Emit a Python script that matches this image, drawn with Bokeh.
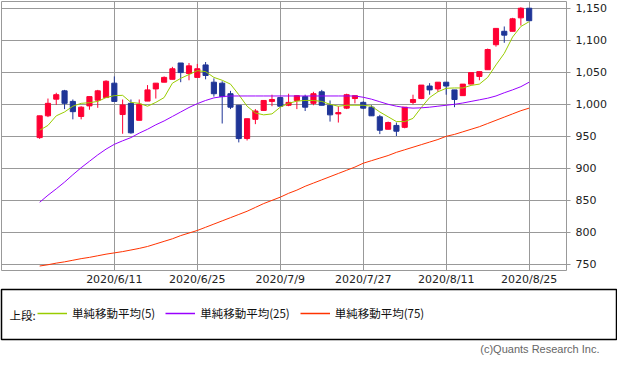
from bokeh.plotting import figure
from bokeh.models import (Range1d, FixedTicker, NumeralTickFormatter, Legend, LegendItem,
                          Label, Title, ColumnDataSource, Plot)
from bokeh.layouts import column
from bokeh.embed import file_html
from bokeh.resources import INLINE

# ---------------- data ----------------
dates = ["2020/5/29",
         "2020/6/1", "2020/6/2", "2020/6/3", "2020/6/4", "2020/6/5",
         "2020/6/8", "2020/6/9", "2020/6/10", "2020/6/11", "2020/6/12",
         "2020/6/15", "2020/6/16", "2020/6/17", "2020/6/18", "2020/6/19",
         "2020/6/22", "2020/6/23", "2020/6/24", "2020/6/25", "2020/6/26",
         "2020/6/29", "2020/6/30", "2020/7/1", "2020/7/2", "2020/7/3",
         "2020/7/6", "2020/7/7", "2020/7/8", "2020/7/9", "2020/7/10",
         "2020/7/13", "2020/7/14", "2020/7/15", "2020/7/16", "2020/7/17",
         "2020/7/20", "2020/7/21", "2020/7/22",
         "2020/7/27", "2020/7/28", "2020/7/29", "2020/7/30", "2020/7/31",
         "2020/8/3", "2020/8/4", "2020/8/5", "2020/8/6", "2020/8/7",
         "2020/8/11", "2020/8/12", "2020/8/13", "2020/8/14",
         "2020/8/17", "2020/8/18", "2020/8/19", "2020/8/20", "2020/8/21",
         "2020/8/24", "2020/8/25"]

opens = [948, 982, 1008, 1021, 1004.5, 981, 997.5, 1006.5, 1010.5, 1033,
         984, 1001.5, 975, 1005, 1024, 1034.5, 1039, 1064.5, 1048, 1042,
         1061.5, 1034.5, 1033, 1016.5, 998.5, 946.5, 976.5, 990.5, 1004.5, 1010.5,
         998.5, 1006, 1012, 1001.5, 1019.5, 998.5, 985, 994, 1009, 1003,
         995.5, 980.5, 961, 967, 964, 1003, 1009, 1028.5, 1024, 1034.5,
         1022.5, 1013.5, 1031.5, 1043.5, 1054, 1093, 1114, 1114, 1135, 1150]
highs = [982, 1009, 1018, 1022.5, 1007.5, 997, 1012, 1022.5, 1037.5, 1043.5,
         1007.5, 1007.5, 1007.5, 1030, 1033, 1043.5, 1058.5, 1064.5, 1064.5, 1063,
         1066, 1040.5, 1036, 1021, 998.5, 977.5, 992.5, 1006, 1015, 1010.5,
         1016.5, 1013.5, 1015, 1019.5, 1022.5, 1006, 997, 1016.5, 1013.5, 1004.5,
         998.5, 983.5, 973, 971.5, 995.5, 1015, 1030, 1033, 1034.5, 1034.5,
         1022.5, 1031.5, 1049.5, 1051, 1087, 1118.5, 1121.5, 1135, 1151.5, 1150]
lows = [946, 980, 999, 992.5, 976.5, 976.5, 991.5, 994.5, 1010, 1004,
        954, 954, 975, 1005, 1009, 1034.5, 1039, 1034.5, 1037.5, 1042,
        1039, 1012, 970, 992.5, 940.5, 943.5, 969, 990, 997, 997,
        997, 992.5, 989.5, 998.5, 998.5, 973, 971.5, 992.5, 1001.5, 992.5,
        982, 953.5, 961, 950.5, 962.5, 1000, 1008, 1015, 1019.5, 1015,
        995.5, 1013.5, 1031.5, 1037.5, 1054, 1090, 1096, 1114, 1123, 1130]
closes = [982, 1001.5, 1015, 1001.5, 988.5, 995.5, 1012, 1021, 1036, 1004.5,
          999, 955.5, 1000, 1022.5, 1033, 1042, 1055.5, 1049.5, 1060, 1055.5,
          1045, 1016.5, 1012, 995.5, 946.5, 977.5, 989.5, 1006, 1007.5, 997,
          1003, 1013.5, 995.5, 1016.5, 998.5, 983.5, 987, 1015, 1013.5, 994,
          982, 959.5, 971.5, 958, 995.5, 1007.5, 1030, 1022.5, 1034.5, 1028.5,
          1007.5, 1031.5, 1049.5, 1051, 1085.5, 1118.5, 1108, 1133.5, 1150, 1130.5]

ma5 = [959.5, 967, 982, 988, 997, 1001.5, 1002.5, 1004.5, 1010.5, 1013.5,
       1014, 1003, 1001.5, 997, 1003, 1010.5, 1033, 1040.5, 1046.5, 1052.5,
       1051, 1042, 1037.5, 1031.5, 1015, 997, 986.5, 983.5, 985, 995.5,
       1001.5, 1005, 1006, 1006, 1004.5, 1000, 997, 998.5, 998.5, 998.5,
       997, 988, 980.5, 973, 973, 978, 995, 1010.5, 1019.5, 1025,
       1025.5, 1025.5, 1029.5, 1031.5, 1042, 1061.5, 1079.5, 1105, 1121.5, 1129]
ma25 = [847, 858, 868, 878.5, 890, 901, 911, 921, 930, 937.5,
        943, 948, 955, 961, 968, 974, 981, 988, 995, 1001,
        1006, 1010, 1012, 1013, 1013, 1013, 1013, 1013, 1013, 1013,
        1013, 1013, 1013, 1013, 1013, 1013, 1013, 1013, 1013, 1011,
        1008, 1004, 1000, 997, 995, 994, 994.5, 995.5, 997, 998.5,
        1000, 1002, 1004.5, 1007, 1009.5, 1013, 1018, 1022.5, 1027.5, 1034.5]
ma75 = [747.5, 749.5, 752, 754, 756.5, 759, 761, 763.5, 766, 768,
        770, 772.5, 775, 778, 782, 786, 790, 795, 799, 803,
        808, 813, 818, 823, 828, 833, 839, 845, 850, 855,
        861, 866, 872, 877, 882, 887, 892, 897, 902, 908,
        912, 916, 920, 925, 929, 933, 937, 941, 945, 950,
        953, 957, 961, 965, 970, 975, 980, 985, 990, 994]

tick_dates = ["2020/6/11", "2020/6/25", "2020/7/9", "2020/7/27", "2020/8/11", "2020/8/25"]
y_ticks = [750, 800, 850, 900, 950, 1000, 1050, 1100, 1150]
legend_labels = ["単純移動平均(5)", "単純移動平均(25)", "単純移動平均(75)"]
legend_title = "上段:"
copyright_text = "(c)Quants Research Inc."

# ---------------- styles ----------------
RED = "#ff0033"
BLUE = "#1f3597"
C5, C25, C75 = "#99cc00", "#9900ff", "#ff3300"
GRID = "#999999"
JP = "Noto Sans CJK JP"

idx = list(range(len(dates)))
src = ColumnDataSource(dict(
    x=idx, high=highs, low=lows,
    top=[max(o, c) for o, c in zip(opens, closes)],
    bottom=[min(o, c) for o, c in zip(opens, closes)],
    color=[RED if c >= o else BLUE for o, c in zip(opens, closes)],
))

p = figure(width=617, height=288, x_range=Range1d(-4.6, 63.5), y_range=Range1d(740.5, 1160.5),
           y_axis_location="right", toolbar_location=None, output_backend="svg",
           min_border_left=1, min_border_top=1, min_border_right=51, min_border_bottom=16,
           outline_line_color=GRID, outline_line_width=1)

p.segment(x0="x", y0="high", x1="x", y1="low", line_color="color", line_width=1, source=src)
p.vbar(x="x", top="top", bottom="bottom", width=0.62, fill_color="color", line_color="color",
       line_width=1, source=src)
p.line(idx, ma5, line_color=C5, line_width=1)
p.line(idx, ma25, line_color=C25, line_width=1)
p.line(idx, ma75, line_color=C75, line_width=1)

tick_pos = [dates.index(d) for d in tick_dates]
p.xaxis.ticker = FixedTicker(ticks=tick_pos)
p.xaxis.major_label_overrides = {i: d for i, d in zip(tick_pos, tick_dates)}
p.yaxis.ticker = FixedTicker(ticks=y_ticks)
p.yaxis.formatter = NumeralTickFormatter(format="0,0")

for ax in (p.xaxis[0], p.yaxis[0]):
    ax.axis_line_color = None
    ax.minor_tick_line_color = None
    ax.major_tick_in = 0
    ax.major_label_text_font = "DejaVu Sans"
    ax.major_label_text_font_size = "11px"
    ax.major_label_text_color = "#222222"
p.xaxis.major_tick_out = 0
p.xaxis.major_label_standoff = 2
p.yaxis.major_tick_out = 4
p.yaxis.major_tick_line_color = GRID
p.yaxis.major_label_standoff = 5

p.xgrid.grid_line_color = GRID
p.ygrid.grid_line_color = GRID

# ---------------- legend panel ----------------
q = figure(frame_width=615, frame_height=50, x_range=Range1d(0, 615), y_range=Range1d(0, 50),
           x_axis_type=None, y_axis_type=None, toolbar_location=None, output_backend="svg",
           min_border_left=1, min_border_right=1, min_border_top=1, min_border_bottom=18,
           outline_line_color="black", outline_line_width=1.5)
q.xgrid.visible = False
q.ygrid.visible = False
if "frame_align" in Plot.properties():
    p.frame_align = False
    q.frame_align = False

# legend sample renderers, kept outside the visible ranges
d5 = q.line(x=[-20, -10], y=[-20, -20], line_color=C5, line_width=1.5)
d25 = q.line(x=[-20, -10], y=[-20, -20], line_color=C25, line_width=1.5)
d75 = q.line(x=[-20, -10], y=[-20, -20], line_color=C75, line_width=1.5)

leg = Legend(items=[LegendItem(label=legend_labels[0], renderers=[d5]),
                    LegendItem(label=legend_labels[1], renderers=[d25]),
                    LegendItem(label=legend_labels[2], renderers=[d75])],
             orientation="horizontal", location=(36, 18), margin=0, padding=0,
             spacing=10, glyph_width=30, glyph_height=14, label_standoff=5,
             label_height=14, label_text_font=JP,
             label_text_font_size="11.5px", label_text_color="#111111",
             border_line_color=None, background_fill_alpha=0)
q.add_layout(leg)

q.add_layout(Label(x=8, y=25, text=legend_title, text_font=JP,
                   text_font_size="11.5px", text_baseline="middle", text_color="#111111"))

q.add_layout(Title(text=copyright_text, align="right", offset=17, standoff=2,
                   text_font="Liberation Sans", text_font_size="11px",
                   text_font_style="normal", text_color="#666666"), "below")

layout = column(p, q, spacing=0)
open("out.html", "w").write(file_html(layout, INLINE))
